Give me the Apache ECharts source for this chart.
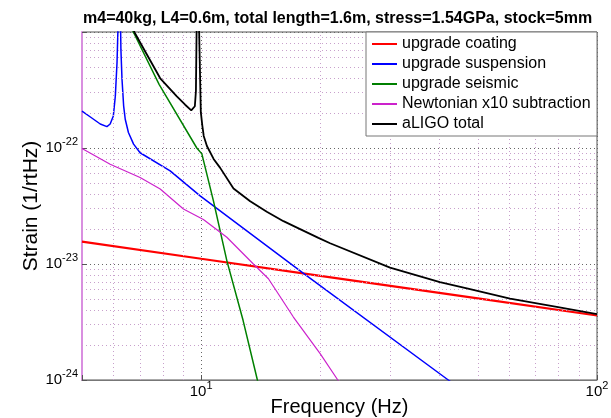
<!DOCTYPE html>
<html>
<head>
<meta charset="utf-8">
<script src="https://cdn.jsdelivr.net/npm/echarts@6/dist/echarts.min.js"></script>
<style>
html, body { margin: 0; padding: 0; background: #fff; }
#chart { width: 611px; height: 418px; }
</style>
</head>
<body>
<div id="chart"></div>
<script>
// values (frequency in Hz, strain in 1/rtHz)
var coatingF = [5, 10, 20, 50, 100];
var coatingH = [1.56e-23, 1.11e-23, 7.9e-24, 5.05e-24, 3.6e-24];

var suspF = [5.0, 5.25, 5.56, 5.78, 5.89, 6.0, 6.07, 6.13, 6.16, 6.21, 6.25, 6.27, 6.31, 6.37, 6.43, 6.55, 6.75, 7.01, 8.35, 9.94, 18.1, 42.1, 100];
var suspH = [2.08e-22, 1.85e-22, 1.61e-22, 1.53e-22, 1.61e-22, 1.89e-22, 2.81e-22, 5.45e-22, 1.0e-21, 1e-20, 1.5e-21, 7.08e-22, 3.91e-22, 2.31e-22, 1.77e-22, 1.36e-22, 1.08e-22, 9.1e-23, 6.35e-23, 3.87e-23, 8.34e-24, 1.0e-24, 1.1e-25];

var seisF = [5, 6.77, 7.83, 9.75, 10.04, 10.74, 11.61, 12.76, 13.83, 15];
var seisH = [6e-21, 9.7e-22, 3.54e-22, 1.0e-22, 8.9e-23, 3.5e-23, 1.07e-23, 3.27e-24, 1.04e-24, 3.3e-25];

var newtF = [5.0, 5.89, 7.01, 7.88, 9.02, 10.13, 11.61, 13.55, 14.79, 17.1, 19.98, 22.14, 30];
var newtH = [9.9e-23, 7.24e-23, 5.56e-23, 4.43e-23, 2.98e-23, 2.42e-23, 1.70e-23, 1.0e-23, 7.46e-24, 3.49e-24, 1.69e-24, 1.0e-24, 2.3e-25];

var totalF = [5, 6.0, 6.81, 7.31, 7.88, 8.68, 9.11, 9.44, 9.55, 9.64, 9.70, 9.75, 9.80, 9.86, 9.92, 9.98, 10.07, 10.15, 10.34, 10.75, 11.17, 12.07, 13.30, 14.65, 16.14, 17.78, 19.78, 21.17, 30.0, 40.1, 47.2, 60.3, 79.1, 100];
var totalH = [6.5e-21, 2.5e-21, 9.7e-22, 6.3e-22, 3.99e-22, 2.79e-22, 2.36e-22, 2.11e-22, 2.15e-22, 2.29e-22, 3.1e-22, 1.5e-21, 1e-20, 1.5e-21, 5.47e-22, 2.04e-22, 1.55e-22, 1.27e-22, 1.04e-22, 8.05e-23, 6.74e-23, 4.47e-23, 3.47e-23, 2.82e-23, 2.34e-23, 2.0e-23, 1.68e-23, 1.51e-23, 9.3e-24, 6.98e-24, 6.12e-24, 5.02e-24, 4.26e-24, 3.69e-24];

var names = ['upgrade coating', 'upgrade suspension', 'upgrade seismic', 'Newtonian x10 subtraction', 'aLIGO total'];
var titleText = 'm4=40kg, L4=0.6m, total length=1.6m, stress=1.54GPa, stock=5mm';

var FONT = '"Liberation Sans", Arial, sans-serif';

// echarts rounds log ticks to 20 digits, so plot strain in units of 1e-24
var UNIT_EXP = -24;
var UNIT = 1e-24;

function pairs(f, h) {
    return f.map(function (v, i) { return [v, h[i] / UNIT]; });
}

// matlab style minor grid (2..9 in every decade)
var minorLines = [];
[1, 10].forEach(function (d) {
    for (var k = 2; k <= 9; k++) {
        if (k * d > 5 && k * d < 100) minorLines.push({ xAxis: k * d });
    }
});
[1, 10, 100].forEach(function (d) {
    for (var k = 2; k <= 9; k++) minorLines.push({ yAxis: k * d });
});

function powLabel(v, shift, hideTop) {
    var e = Math.log10(v);
    if (Math.abs(e - Math.round(e)) > 1e-6) return '';
    e = Math.round(e) + shift;
    if (hideTop && e === hideTop) return '';
    return '{b|10}{s|' + e + '}';
}

var rich = {
    b: { fontSize: 15, fontFamily: FONT, color: '#000', lineHeight: 24 },
    s: { fontSize: 11, fontFamily: FONT, color: '#000', verticalAlign: 'top' }
};

var chart = echarts.init(document.getElementById('chart'));

function line(name, f, h, color, width, z) {
    return {
        name: name,
        type: 'line',
        data: pairs(f, h),
        symbol: 'none',
        clip: true,
        z: z,
        lineStyle: { color: color, width: width },
        itemStyle: { color: color },
        animation: false
    };
}

var option = {
    backgroundColor: '#fff',
    animation: false,
    title: {
        text: titleText,
        left: 78,
        top: 6,
        textStyle: { fontSize: 16, fontWeight: 'bold', color: '#000', fontFamily: FONT }
    },
    grid: {
        left: 82, right: 14, top: 32, bottom: 38,
        containLabel: false,
        outerBoundsMode: 'none',
        show: true, borderColor: '#555', borderWidth: 1
    },
    xAxis: {
        type: 'log',
        min: 5, max: 100,
        name: 'Frequency (Hz)',
        nameLocation: 'middle',
        nameGap: 17,
        nameMoveOverlap: false,
        nameTextStyle: { fontSize: 20, color: '#000', fontFamily: FONT },
        axisLine: { lineStyle: { color: '#777', width: 1 } },
        axisTick: { inside: true, length: 5, lineStyle: { color: '#555' } },
        axisLabel: {
            margin: 0,
            formatter: function (v) { return powLabel(v, 0); },
            rich: rich
        },
        splitLine: { show: true, lineStyle: { color: '#666', type: [1, 3], width: 1 } }
    },
    yAxis: {
        type: 'log',
        min: 1, max: 1000,
        name: 'Strain (1/rtHz)',
        nameLocation: 'middle',
        nameGap: 40,
        nameMoveOverlap: false,
        nameTextStyle: { fontSize: 21, color: '#000', fontFamily: FONT },
        axisLine: { lineStyle: { color: '#d98fe0', width: 2 } },
        axisTick: { inside: true, length: 5, lineStyle: { color: '#555' } },
        axisLabel: {
            margin: 4,
            formatter: function (v) { return powLabel(v, UNIT_EXP, -21); },
            rich: rich
        },
        splitLine: { show: true, lineStyle: { color: '#666', type: [1, 3], width: 1 } }
    },
    legend: {
        orient: 'vertical',
        left: 372,
        top: 36,
        padding: 0,
        itemGap: 4,
        itemWidth: 25,
        itemHeight: 2,
        icon: 'rect',
        z: 20,
        data: names,
        textStyle: { fontSize: 16, color: '#000', fontFamily: FONT, lineHeight: 16 }
    },
    graphic: [{
        type: 'rect',
        z: 15,
        shape: { x: 366, y: 32, width: 231, height: 104 },
        style: { fill: '#fff', stroke: '#777', lineWidth: 1 }
    }],
    series: [
        {
            name: 'grid',
            type: 'line',
            data: [[10, 10]],
            symbol: 'none',
            lineStyle: { opacity: 0 },
            z: 1,
            silent: true,
            markLine: {
                silent: true,
                symbol: ['none', 'none'],
                label: { show: false },
                lineStyle: { color: '#c8a0cc', type: [1, 3], width: 1 },
                emphasis: { disabled: true },
                animation: false,
                data: minorLines
            }
        },
        line(names[0], coatingF, coatingH, '#ff0000', 2.2, 3),
        line(names[1], suspF, suspH, '#0000ff', 1.5, 4),
        line(names[2], seisF, seisH, '#008000', 1.5, 5),
        line(names[3], newtF, newtH, '#cc22cc', 1.2, 6),
        line(names[4], totalF, totalH, '#000000', 1.8, 7)
    ]
};

chart.setOption(option);
</script>
</body>
</html>
